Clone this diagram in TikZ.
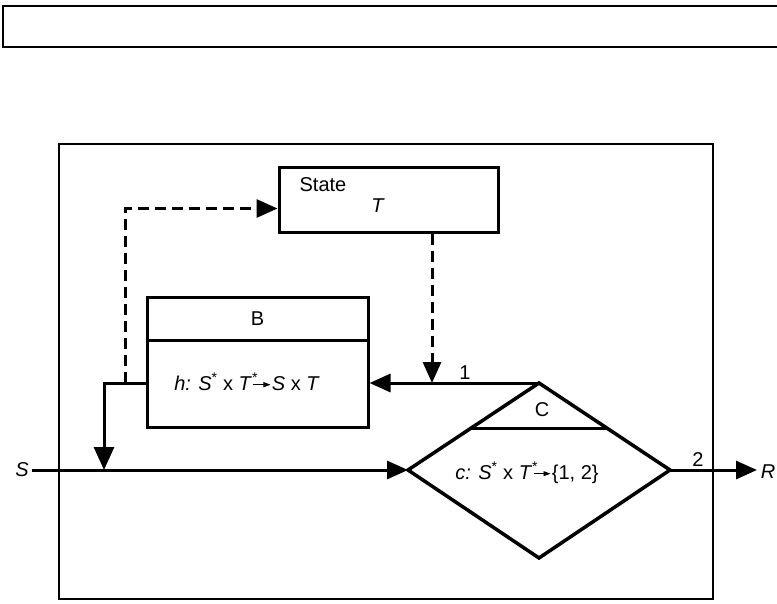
\documentclass[tikz,border=0pt]{standalone}
\usepackage{fontspec}
\setmainfont{Liberation Sans}
\usetikzlibrary{arrows.meta,calc}
\tikzset{
  ln/.style={line width=3pt},
  box/.style={draw, line width=3pt, inner sep=0pt},
  bigtip/.style={-{Triangle[length=21pt,width=18pt]}},
  dsh/.style={line width=3pt, dash pattern=on 11pt off 6pt},
  lbl/.style={font=\fontsize{20pt}{22pt}\selectfont, inner sep=0pt},
}
\newcommand{\smallarr}{\kern-5pt\tikz[baseline=-0.55ex]\draw[line width=0.8pt,-{Triangle[length=7pt,width=5pt]}](0,0)--(17pt,0);\kern1pt}
\begin{document}
\begin{tikzpicture}[x=1pt,y=-1pt]
\useasboundingbox (0,0) rectangle (777,603);
% top strip
\draw[line width=1.6pt] (777,6) -- (3,6) -- (3,47) -- (777,47);
% outer frame
\node[box, line width=2.6pt, minimum width=654pt, minimum height=455pt] (frame) at (386,371.5) {};
% State box
\node[box, minimum width=219pt, minimum height=65pt] (state) at (388.5,199.5) {};
\node[lbl] (statetxt) at (323,185) {State};
\node[lbl] (statet) at (378,206) {\textit{T}};
% B box
\node[box, minimum width=221pt, minimum height=43pt, lbl] (btop) at (257.5,318.5) {B};
\node[box, minimum width=221pt, minimum height=87pt] (bbot) at (257.5,383.5) {};
\node[lbl] (htxt) at (247,382) {\textit{h: S}\textsuperscript{*} x \textit{T}\textsuperscript{*}\smallarr\textit{S} x \textit{T}};
% diamond
\coordinate (dl) at (408,470);
\coordinate (dt) at (539,383);
\coordinate (dr) at (670,470);
\coordinate (db) at (539,558);
\draw[line width=3.5pt, line join=miter] (dl) -- (dt) -- (dr) -- (db) -- cycle;
\draw[ln] ($(dt)!0.52!(dl)$) coordinate (cl) -- ($(dt)!0.52!(dr)$) coordinate (cr);
\node[lbl] (ctxt) at (542,410) {C};
\node[lbl] (dtxt) at (527,473) {\textit{c: S}\textsuperscript{*} x \textit{T}\textsuperscript{*}\smallarr\{1, 2\}};
% signals
\node[lbl] (s) at (22,470) {\textit{S}};
\node[lbl] (r) at (768,472) {\textit{R}};
\coordinate (rtip) at (757,470);
\draw[ln, bigtip] (s.east) ++(3pt,0) -- (dl);
\draw[ln, bigtip] (dr) -- (rtip);
\node[lbl] (two) at (698,460) {2};
% branch 1 to B
\draw[ln, bigtip] (dt) -- (dt -| bbot.east);
\node[lbl] (one) at (465,373) {1};
% B output down to S line
\coordinate (bo) at (104,383);
\draw[ln, -{Triangle[length=23pt,width=20pt]}] (bbot.west |- bo) -- (bo) -- (bo |- dl);
% dashed to State
\coordinate (dj) at (125,383);
\draw[dsh, bigtip] (dj) |- ([yshift=-9pt]state.west);
% dashed from State
\coordinate (j1) at (432,383);
\draw[dsh, bigtip] (j1 |- state.south) -- (j1);
\end{tikzpicture}
\end{document}
